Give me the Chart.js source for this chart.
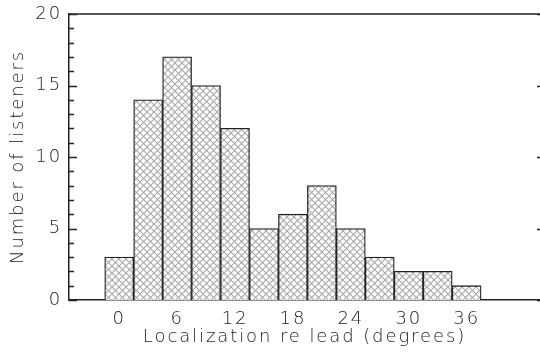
<!DOCTYPE html>
<html>
<head>
<meta charset="utf-8">
<script src="https://cdn.jsdelivr.net/npm/chart.js@4"></script>
<style>
html, body { margin: 0; padding: 0; background: #fff; }
#wrap { width: 540px; height: 356px; }
</style>
</head>
<body>
<div id="wrap"><canvas id="c"></canvas></div>
<script>
// histogram data
const degrees = [0, 3, 6, 9, 12, 15, 18, 21, 24, 27, 30, 33, 36];
const listeners = [3, 14, 17, 15, 12, 5, 6, 8, 5, 3, 2, 2, 1];
const xTickValues = [0, 6, 12, 18, 24, 30, 36];
const yTickValues = [0, 5, 10, 15, 20];

const canvas = document.getElementById('c');
const ctx = canvas.getContext('2d');

// grey cross-hatch fill
function makeHatch() {
    const s = 7;
    const p = document.createElement('canvas');
    p.width = s; p.height = s;
    const g = p.getContext('2d');
    g.fillStyle = '#fff';
    g.fillRect(0, 0, s, s);
    g.strokeStyle = '#a8a8a8';
    g.lineWidth = 1.1;
    g.beginPath();
    g.moveTo(-1, -1); g.lineTo(s + 1, s + 1);
    g.moveTo(s + 1, -1); g.lineTo(-1, s + 1);
    g.stroke();
    return ctx.createPattern(p, 'repeat');
}

// wide plotter-style lettering
const spacing = {
    id: 'spacing',
    beforeLayout(chart) { chart.ctx.letterSpacing = '1.9px'; },
    beforeDraw(chart) { chart.ctx.letterSpacing = '1.9px'; }
};

// inward ticks, top frame line
const frame = {
    id: 'frame',
    afterDraw(chart) {
        const c = chart.ctx;
        const area = chart.chartArea;
        const y = chart.scales.y;
        c.save();
        c.strokeStyle = '#222';
        c.lineWidth = 1.5;
        c.beginPath();
        c.moveTo(area.left, area.top);
        c.lineTo(chart.width, area.top);
        for (let v = 0; v <= 20; v++) {
            const py = Math.round(y.getPixelForValue(v)) + 0.5;
            const len = v % 5 === 0 ? 8 : 5;
            c.moveTo(area.left, py);
            c.lineTo(area.left + len, py);
            if (v % 5 === 0) {
                c.moveTo(chart.width - 3, py);
                c.lineTo(chart.width, py);
            }
        }
        c.stroke();
        c.restore();
    }
};

Chart.defaults.font.family = "'DejaVu Sans', sans-serif";
Chart.defaults.font.weight = 200;
Chart.defaults.color = '#222';

new Chart(ctx, {
    type: 'bar',
    data: {
        datasets: [{
            data: degrees.map((d, i) => ({ x: d, y: listeners[i] })),
            backgroundColor: makeHatch(),
            borderColor: '#222',
            borderWidth: 1.3,
            barPercentage: 1,
            categoryPercentage: 1
        }]
    },
    options: {
        responsive: true,
        maintainAspectRatio: false,
        animation: false,
        layout: { padding: { left: 8, top: 14, right: 0, bottom: 8 } },
        plugins: {
            legend: { display: false },
            tooltip: { enabled: false }
        },
        scales: {
            x: {
                type: 'linear',
                offset: false,
                min: -5.2,
                max: 43.6,
                afterBuildTicks: function(scale) {
                    scale.ticks = xTickValues.map(v => ({ value: v }));
                },
                afterFit: function(scale) {
                    scale.height = 48;
                    scale.paddingLeft = 0;
                    scale.paddingRight = 0;
                },
                grid: { display: false, drawTicks: false, offset: false },
                border: { display: true, color: '#222', width: 1.5 },
                ticks: { padding: 9, font: { size: 18 }, maxRotation: 0 },
                title: {
                    display: true,
                    text: 'Localization re lead (degrees)',
                    font: { size: 18 },
                    padding: { top: 0, bottom: 0 }
                }
            },
            y: {
                min: 0,
                max: 20,
                afterBuildTicks: function(scale) {
                    scale.ticks = yTickValues.map(v => ({ value: v }));
                },
                afterFit: function(scale) {
                    scale.width = 61;
                    scale.paddingTop = 0;
                    scale.paddingBottom = 0;
                },
                grid: { display: false, drawTicks: false },
                border: { display: true, color: '#222', width: 1.5 },
                ticks: { padding: 7, font: { size: 18 } },
                title: {
                    display: true,
                    text: 'Number of listeners',
                    font: { size: 18 },
                    padding: { top: 0, bottom: 0 }
                }
            }
        }
    },
    plugins: [spacing, frame]
});
</script>
</body>
</html>
